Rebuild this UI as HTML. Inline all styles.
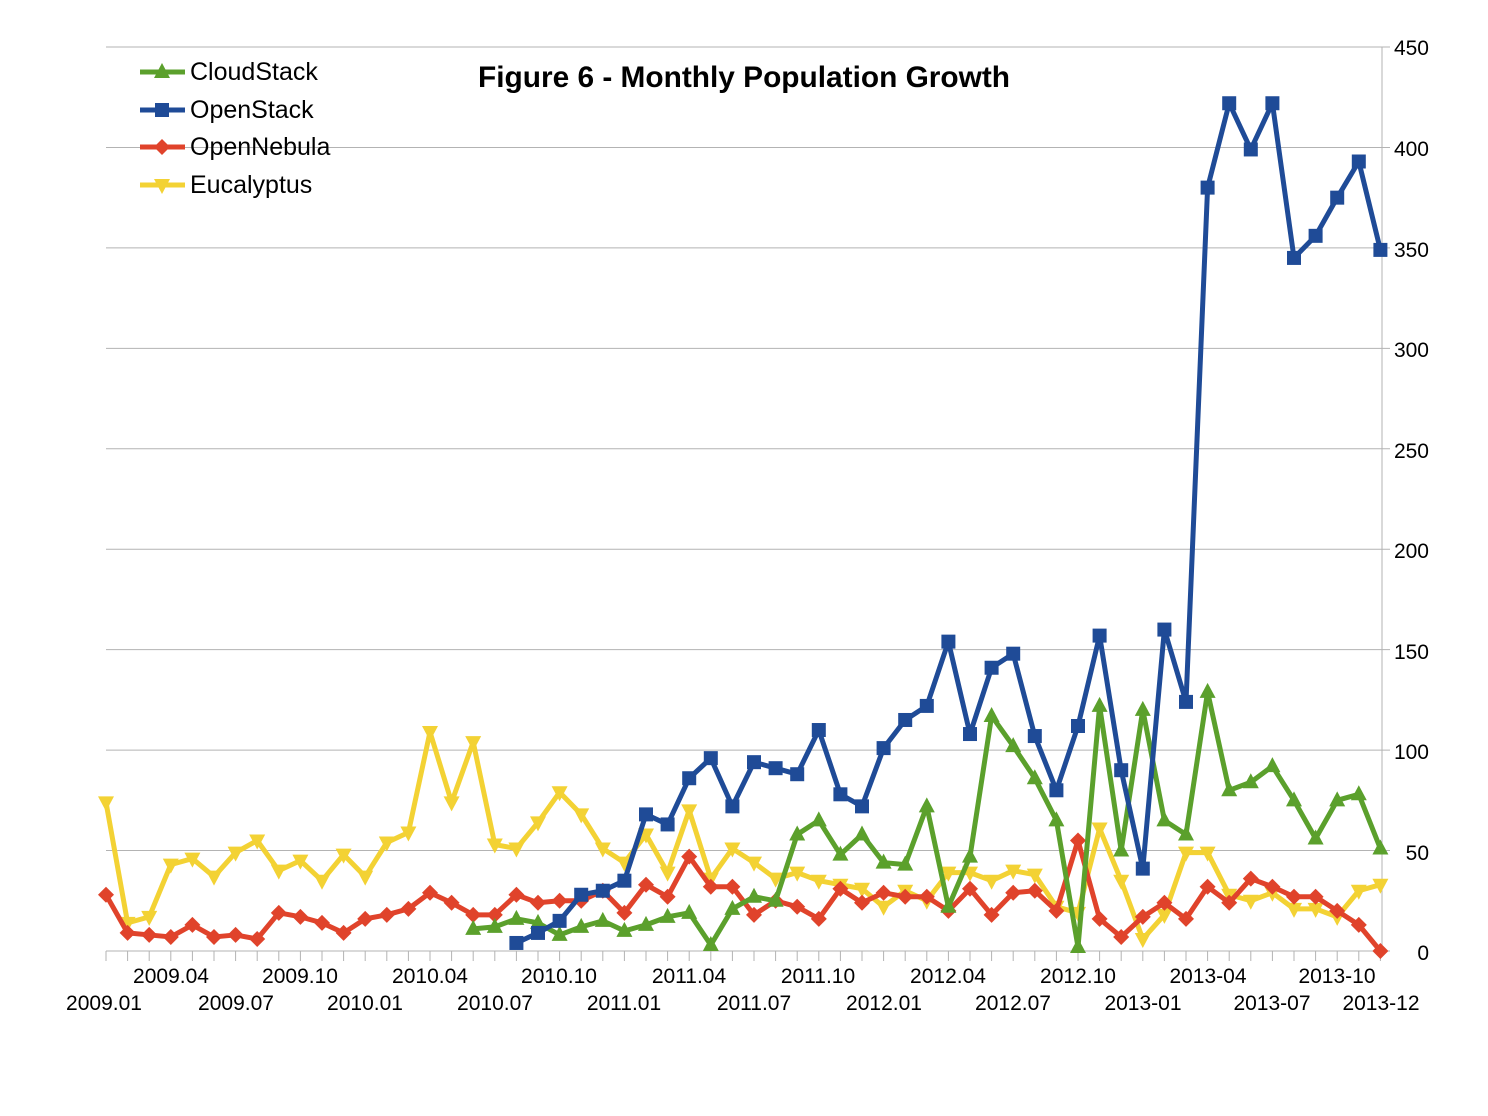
<!DOCTYPE html>
<html><head><meta charset="utf-8"><style>
html,body{margin:0;padding:0;background:#fff;}
svg{display:block;font-family:"Liberation Sans",Arial,sans-serif;}
</style></head><body>
<svg id="c" width="1488" height="1116" viewBox="0 0 1488 1116" xmlns="http://www.w3.org/2000/svg">
<g id="grid" stroke="#b3b3b3" stroke-width="1"></g>
<g fill="#000" font-size="21" text-anchor="end">
<text x="1429" y="55">450</text><text x="1429" y="156">400</text><text x="1429" y="257">350</text>
<text x="1429" y="357">300</text><text x="1429" y="458">250</text><text x="1429" y="558">200</text>
<text x="1429" y="659">150</text><text x="1429" y="759">100</text><text x="1429" y="860">50</text>
<text x="1429" y="960">0</text>
</g>
<g fill="#000" font-size="21" text-anchor="middle">
<text x="171" y="983">2009.04</text><text x="300" y="983">2009.10</text><text x="430" y="983">2010.04</text>
<text x="559" y="983">2010.10</text><text x="689" y="983">2011.04</text><text x="818" y="983">2011.10</text>
<text x="948" y="983">2012.04</text><text x="1078" y="983">2012.10</text><text x="1208" y="983">2013-04</text>
<text x="1337" y="983">2013-10</text>
<text x="104" y="1010">2009.01</text><text x="236" y="1010">2009.07</text><text x="365" y="1010">2010.01</text>
<text x="495" y="1010">2010.07</text><text x="624" y="1010">2011.01</text><text x="754" y="1010">2011.07</text>
<text x="884" y="1010">2012.01</text><text x="1013" y="1010">2012.07</text><text x="1143" y="1010">2013-01</text>
<text x="1272" y="1010">2013-07</text><text x="1381" y="1010">2013-12</text>
</g>
<text x="744" y="87" font-size="30" font-weight="bold" text-anchor="middle" textLength="532" lengthAdjust="spacingAndGlyphs">Figure 6 - Monthly Population Growth</text>
<g id="series"></g>
<g font-size="25" fill="#000">
<text x="190" y="80">CloudStack</text><text x="190" y="118">OpenStack</text>
<text x="190" y="155">OpenNebula</text><text x="190" y="193">Eucalyptus</text>
</g>
<g id="legend"></g>
</svg>
<script>
const NS="http://www.w3.org/2000/svg";
function el(p,t,a){const e=document.createElementNS(NS,t);for(const k in a)e.setAttribute(k,a[k]);p.appendChild(e);return e;}
const X=i=>106+i*21.6, Y=v=>951-v*2.0089;
const grid=document.getElementById('grid');
for(let v=50;v<=450;v+=50)el(grid,'line',{x1:106,x2:1390,y1:Y(v),y2:Y(v)});
el(grid,'line',{x1:106,x2:1390,y1:951,y2:951});
el(grid,'line',{x1:1382,x2:1382,y1:47,y2:951});
for(let i=0;i<60;i++)el(grid,'line',{x1:X(i),x2:X(i),y1:951,y2:961});
const euc=[74,14,17,43,46,37,49,55,40,45,35,48,37,54,59,109,74,104,53,51,64,79,68,51,44,58,39,70,36,51,44,36,39,35,33,31,22,30,25,39,39,35,40,38,22,19,61,35,6,18,49,49,28,25,29,21,21,17,30,33];
const neb=[28,9,8,7,13,7,8,6,19,17,14,9,16,18,21,29,24,18,18,28,24,25,25,30,19,33,27,47,32,32,18,25,22,16,31,24,29,27,27,20,31,18,29,30,20,55,16,7,17,24,16,32,24,36,32,27,27,20,13,0];
const os=[4,9,15,28,30,35,68,63,86,96,72,94,91,88,110,78,72,101,115,122,154,108,141,148,107,80,112,157,90,41,160,124,380,422,399,422,345,356,375,393,349];
const cs=[11,12,16,14,8,12,15,10,13,17,19,3,21,27,25,58,65,48,58,44,43,72,22,47,117,102,86,65,2,122,50,120,65,58,129,80,84,92,75,56,75,78,51];
function marker(g,type,x,y,c){
 if(type=='sq')el(g,'rect',{x:x-7,y:y-7,width:14,height:14,fill:c});
 else if(type=='di')el(g,'polygon',{points:`${x},${y-8} ${x+8},${y} ${x},${y+8} ${x-8},${y}`,fill:c});
 else if(type=='up')el(g,'polygon',{points:`${x},${y-9} ${x+8},${y+6} ${x-8},${y+6}`,fill:c});
 else el(g,'polygon',{points:`${x-8},${y-6} ${x+8},${y-6} ${x},${y+9}`,fill:c});
}
const S=document.getElementById('series');
function series(d,start,c,type){
 const g=el(S,'g',{});
 el(g,'polyline',{points:d.map((v,k)=>X(start+k)+','+Y(v)).join(' '),fill:'none',stroke:c,'stroke-width':5,'stroke-linejoin':'round'});
 d.forEach((v,k)=>marker(g,type,X(start+k),Y(v),c));
}
const cY='#f3d234',cR='#e0432b',cB='#1f4b97',cG='#5ba02c';
series(euc,0,cY,'dn');series(neb,0,cR,'di');series(cs,17,cG,'up');series(os,19,cB,'sq');
const L=document.getElementById('legend');
[[72,cG,'up'],[110,cB,'sq'],[147,cR,'di'],[185,cY,'dn']].forEach(([y,c,t])=>{
 el(L,'line',{x1:140,x2:185,y1:y,y2:y,stroke:c,'stroke-width':5});marker(L,t,162,y,c);});
</script>
</body></html>
